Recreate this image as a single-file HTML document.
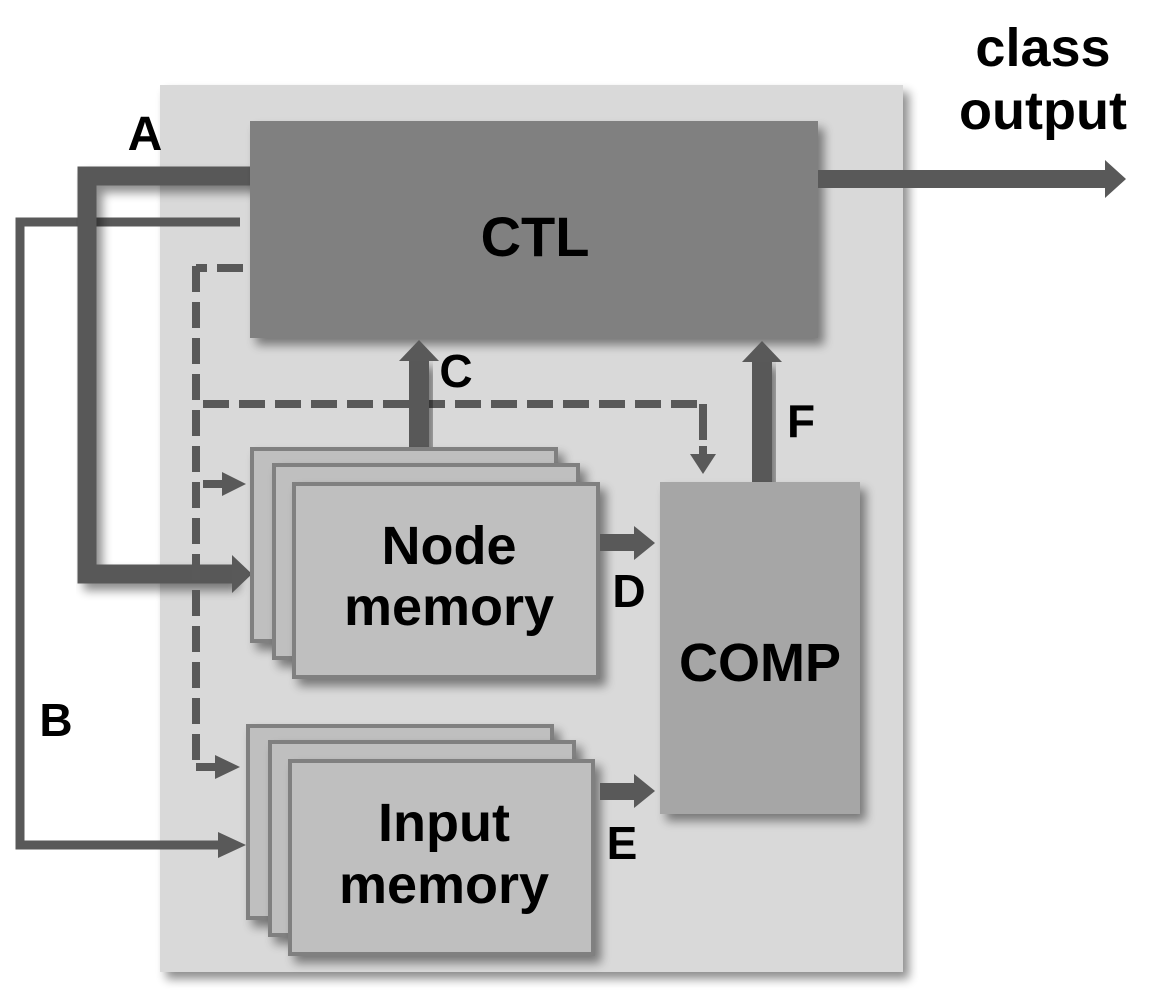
<!DOCTYPE html>
<html><head><meta charset="utf-8"><style>
html,body{margin:0;padding:0;background:#fff;}
svg{display:block;}
text{font-family:"Liberation Sans",sans-serif;font-weight:bold;fill:#000;}
</style></head><body>
<svg width="1154" height="1004" viewBox="0 0 1154 1004" xmlns="http://www.w3.org/2000/svg">
<defs>
<filter id="sh" x="-10%" y="-10%" width="130%" height="130%">
<feGaussianBlur in="SourceAlpha" stdDeviation="5"/>
<feOffset dx="6" dy="7" result="b"/>
<feComponentTransfer><feFuncA type="linear" slope="0.45"/></feComponentTransfer>
<feMerge><feMergeNode/><feMergeNode in="SourceGraphic"/></feMerge>
</filter>
</defs>
<rect x="160" y="85" width="743" height="887" fill="#d9d9d9" filter="url(#sh)"/>
<polyline points="240,222 20,222 20,845 222,845" fill="none" stroke="#595959" stroke-width="9"/>
<polygon points="218,832 246,845 218,858" fill="#595959"/>
<polyline points="255,176 87,176 87,574 233,574" fill="none" stroke="#595959" stroke-width="19" filter="url(#sh)"/>
<polygon points="232,555 252,574 232,593" fill="#595959"/>
<rect x="250" y="121" width="568" height="217" fill="#808080" filter="url(#sh)"/>
<text x="535" y="256" font-size="56" text-anchor="middle">CTL</text>
<rect x="818" y="170" width="290" height="18" fill="#595959"/>
<polygon points="1105,160 1126,179 1105,198" fill="#595959"/>
<g stroke="#595959" stroke-width="8" fill="none" stroke-dasharray="26,10">
<line x1="243" y1="268" x2="196" y2="268"/>
<line x1="196" y1="266" x2="196" y2="767"/>
<line x1="203" y1="404" x2="703" y2="404"/>
<line x1="703" y1="404" x2="703" y2="440" stroke-dasharray="none"/>
<line x1="703" y1="446" x2="703" y2="455" stroke-dasharray="none"/>
</g>
<polygon points="690,454 716,454 703,474" fill="#595959"/>
<rect x="203" y="480" width="20" height="8" fill="#595959"/>
<polygon points="222,472 246,484 222,496" fill="#595959"/>
<rect x="196" y="763" width="26" height="8" fill="#595959"/>
<polygon points="215,755 240,767 215,779" fill="#595959"/>
<rect x="409" y="360" width="20" height="88" fill="#595959" filter="url(#sh)"/>
<polygon points="399,361 419,340 439,361" fill="#595959"/>
<rect x="752" y="360" width="20" height="124" fill="#595959" filter="url(#sh)"/>
<polygon points="742,362 762,341 782,362" fill="#595959"/>
<g stroke="#808080" stroke-width="4" fill="#bfbfbf">
<rect x="252" y="449" width="304" height="192" filter="url(#sh)"/>
<rect x="274" y="465" width="304" height="193" filter="url(#sh)"/>
<rect x="294" y="484" width="304" height="193" filter="url(#sh)"/>
</g>
<text x="449" y="564" font-size="54" text-anchor="middle">Node</text>
<text x="449" y="625" font-size="54" text-anchor="middle">memory</text>
<g stroke="#808080" stroke-width="4" fill="#bfbfbf">
<rect x="248" y="726" width="304" height="192" filter="url(#sh)"/>
<rect x="270" y="742" width="304" height="193" filter="url(#sh)"/>
<rect x="290" y="761" width="303" height="193" filter="url(#sh)"/>
</g>
<text x="444" y="841" font-size="54" text-anchor="middle">Input</text>
<text x="444" y="903" font-size="54" text-anchor="middle">memory</text>
<rect x="660" y="482" width="200" height="332" fill="#a6a6a6" filter="url(#sh)"/>
<text x="760" y="681" font-size="54" text-anchor="middle">COMP</text>
<rect x="600" y="534" width="36" height="17" fill="#595959"/>
<polygon points="634,526 655,543 634,560" fill="#595959"/>
<rect x="600" y="783" width="36" height="17" fill="#595959"/>
<polygon points="634,774 655,791 634,808" fill="#595959"/>
<text x="145" y="150" font-size="48" text-anchor="middle">A</text>
<text x="56" y="736" font-size="46" text-anchor="middle">B</text>
<text x="456" y="387" font-size="46" text-anchor="middle">C</text>
<text x="629" y="607" font-size="46" text-anchor="middle">D</text>
<text x="622" y="859" font-size="46" text-anchor="middle">E</text>
<text x="801" y="437" font-size="46" text-anchor="middle">F</text>
<text x="1043" y="66" font-size="54" text-anchor="middle">class</text>
<text x="1043" y="129" font-size="54" text-anchor="middle">output</text>
</svg>
</body></html>
